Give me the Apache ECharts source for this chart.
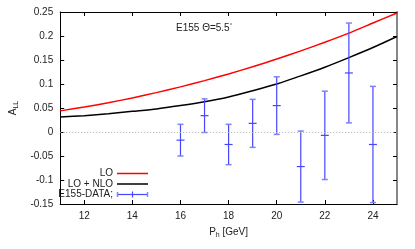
<!DOCTYPE html>
<html><head><meta charset="utf-8">
<script src="https://cdn.jsdelivr.net/npm/echarts@6/dist/echarts.min.js"></script>
<style>html,body{margin:0;padding:0;background:#fff}#c{width:415px;height:249px}</style>
</head><body><div id="c"></div>
<script>
// curve samples
var curveX = [11,12,13,14,15,16,17,18,19,20,21,22,23,24,25];
var loY    = [0.044,0.052,0.061,0.071,0.082,0.094,0.107,0.121,0.136,0.152,0.169,0.187,0.206,0.227,0.248];
var nloY   = [0.031,0.034,0.038,0.043,0.048,0.055,0.063,0.073,0.086,0.100,0.117,0.135,0.155,0.176,0.199];
// E155 data
var dataX   = [16,17,18,19,20,21,22,23,24];
var dataY   = [-0.017,0.034,-0.026,0.018,0.055,-0.072,-0.007,0.123,-0.026];
var dataErr = [0.033,0.035,0.042,0.050,0.060,0.074,0.092,0.104,0.121];
var xTicks = [12,14,16,18,20,22,24];
var legendNames = ['LO','LO + NLO','E155-DATA;'];

var FONT = 'Liberation Sans, Arial, sans-serif';
var BLUE = '#4646ff';
function pairs(xs, ys){ return xs.map(function(x,i){return [x, ys[i]];}); }
var errData = dataX.map(function(x,i){ return [x, dataY[i], dataErr[i]]; });

var chart = echarts.init(document.getElementById('c'), null, {renderer:'canvas'});
var axisLbl = {color:'#222', fontFamily:FONT, fontSize:10};
chart.setOption({
  animation:false,
  backgroundColor:'#fff',
  grid:{left:49, right:18, top:12, bottom:45},
  xAxis:[{
    type:'value', min:11, max:25, position:'bottom',
    name:'{p|P}{s|h}{p| [GeV]}', nameLocation:'middle', nameGap:22,
    nameTextStyle:{rich:{p:{fontSize:10,fontFamily:FONT,color:'#222'},s:{fontSize:7,fontFamily:FONT,color:'#222',verticalAlign:'bottom',padding:[6,0,0,0]}}},
    axisLine:{show:true,onZero:false,lineStyle:{color:'#000',width:1}},
    axisTick:{show:true,inside:true,length:4,customValues:xTicks,lineStyle:{color:'#000'}},
    axisLabel:Object.assign({margin:7,customValues:xTicks},axisLbl),
    splitLine:{show:false}
  },{
    type:'value', min:11, max:25, position:'top',
    axisLine:{show:true,onZero:false,lineStyle:{color:'#000',width:1}},
    axisTick:{show:true,inside:true,length:4,customValues:xTicks,lineStyle:{color:'#000'}},
    axisLabel:{show:false}, splitLine:{show:false}
  }],
  yAxis:[{
    type:'value', min:-0.15, max:0.25, interval:0.05, position:'left',
    name:'{p|A}{s|LL}', nameLocation:'middle', nameGap:37, nameRotate:90,
    nameTextStyle:{rich:{p:{fontSize:10,fontFamily:FONT,color:'#222'},s:{fontSize:7,fontFamily:FONT,color:'#222',padding:[6,0,0,0]}}},
    axisLine:{show:true,onZero:false,lineStyle:{color:'#000',width:1}},
    axisTick:{show:true,inside:true,length:4,lineStyle:{color:'#000'}},
    axisLabel:Object.assign({margin:7},axisLbl),
    splitLine:{show:false}
  },{
    type:'value', min:-0.15, max:0.25, interval:0.05, position:'right',
    axisLine:{show:true,onZero:false,lineStyle:{color:'#888',width:2}},
    axisTick:{show:true,inside:true,length:4,lineStyle:{color:'#000'}},
    axisLabel:{show:false}, splitLine:{show:false}
  }],
  series:[{
    name:legendNames[0], type:'line', data:pairs(curveX, loY), smooth:0.25, showSymbol:false,
    lineStyle:{color:'#ff0000', width:1.5}, z:3,
    markLine:{silent:true, symbol:'none', label:{show:false},
      lineStyle:{color:'#aaa', type:[1,2], width:1}, data:[{yAxis:0}]}
  },{
    name:legendNames[1], type:'line', data:pairs(curveX, nloY), smooth:0.25, showSymbol:false,
    lineStyle:{color:'#000', width:1.5}, z:3
  },{
    name:legendNames[2], type:'custom', data:errData, z:4,
    renderItem:function(params, api){
      var x = api.value(0), y = api.value(1), e = api.value(2);
      var c = api.coord([x,y]), t = api.coord([x,y+e]), b = api.coord([x,y-e]);
      var st = {stroke:BLUE, lineWidth:1.2};
      var cap = 3, tk = 4;
      return {type:'group', children:[
        {type:'line', shape:{x1:c[0],y1:t[1],x2:c[0],y2:b[1]}, style:st},
        {type:'line', shape:{x1:c[0]-cap,y1:t[1],x2:c[0]+cap,y2:t[1]}, style:{stroke:'#8080ff',lineWidth:1.5}},
        {type:'line', shape:{x1:c[0]-cap,y1:b[1],x2:c[0]+cap,y2:b[1]}, style:{stroke:'#8080ff',lineWidth:1.5}},
        {type:'line', shape:{x1:c[0]-tk,y1:c[1],x2:c[0]+tk,y2:c[1]}, style:st}
      ]};
    }
  }],
  graphic:[
    {type:'text', left:176, top:22, style:{text:'E155 Θ=5.5{d|°}', fontSize:10, fontFamily:FONT, fill:'#222',
      rich:{d:{fontSize:6, verticalAlign:'top', padding:[0,0,6,0]}}}},
    {type:'text', x:113, y:173, style:{text:legendNames[0], fontSize:10, fontFamily:FONT, fill:'#222', align:'right', verticalAlign:'middle'}},
    {type:'text', x:113, y:184, style:{text:legendNames[1], fontSize:10, fontFamily:FONT, fill:'#222', align:'right', verticalAlign:'middle'}},
    {type:'text', x:113, y:194.5, style:{text:legendNames[2], fontSize:10, fontFamily:FONT, fill:'#222', align:'right', verticalAlign:'middle'}},
    {type:'line', shape:{x1:117,y1:173.5,x2:148,y2:173.5}, style:{stroke:'#ff0000',lineWidth:1.5}},
    {type:'line', shape:{x1:117,y1:184,x2:148,y2:184}, style:{stroke:'#000',lineWidth:1.5}},
    {type:'line', shape:{x1:117,y1:194.5,x2:148,y2:194.5}, style:{stroke:BLUE,lineWidth:1.2}},
    {type:'line', shape:{x1:117.5,y1:192,x2:117.5,y2:197}, style:{stroke:'#8080ff',lineWidth:1.5}},
    {type:'line', shape:{x1:147.5,y1:192,x2:147.5,y2:197}, style:{stroke:'#8080ff',lineWidth:1.5}},
    {type:'line', shape:{x1:132.5,y1:191.5,x2:132.5,y2:197.5}, style:{stroke:BLUE,lineWidth:1.2}}
  ]
});
</script></body></html>
